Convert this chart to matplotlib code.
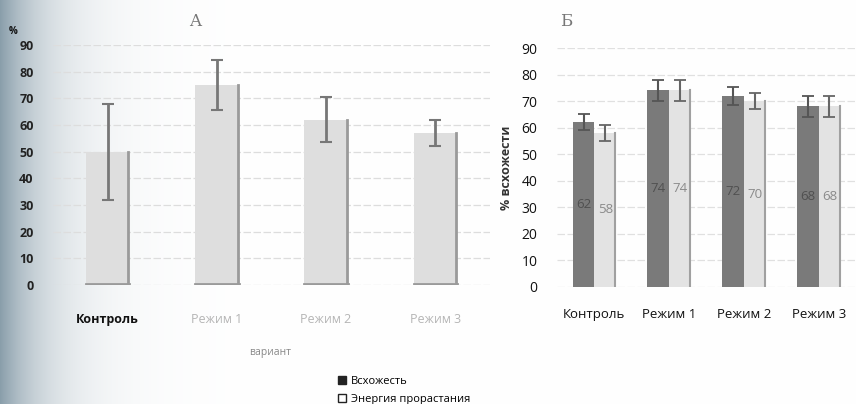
import numpy as np
import matplotlib
matplotlib.use("Agg")
import matplotlib.pyplot as plt
from matplotlib.lines import Line2D

# ---- data ----
categories = ["Контроль", "Режим 1", "Режим 2", "Режим 3"]

# Chart A
a_values = [50, 75, 62, 57]
a_errors = [18, 9.5, 8.5, 5]

# Chart Б
germination = [62, 74, 72, 68]          # Всхожесть
germ_err = [3, 4, 3.5, 4]
energy = [58, 74, 70, 68]               # Энергия прорастания
energy_err = [3, 4, 3, 4]

yticks = [0, 10, 20, 30, 40, 50, 60, 70, 80, 90]
legend_labels = ["Всхожесть", "Энергия прорастания"]

plt.rcParams['font.family'] = ['Open Sans', 'DejaVu Sans']

W, H = 856, 404
fig = plt.figure(figsize=(W / 100, H / 100), dpi=100)
fig.patch.set_facecolor("white")

# scanned-page background: bluish shading on the left edge
bg = fig.add_axes([0, 0, 1, 1], zorder=-10)
xs = np.linspace(0, 1, 800)
shade = np.exp(-xs / 0.055)
c0 = np.array([0.54, 0.62, 0.67])
c1 = np.array([1.0, 1.0, 1.0])
img = (c1[None, :] * (1 - shade[:, None]) + c0[None, :] * shade[:, None])
img = np.tile(img[None, :, :], (10, 1, 1))
bg.imshow(img, aspect="auto", extent=[0, 1, 0, 1])
bg.set_axis_off()


def frac(x0, y0, x1, y1):
    return [x0 / W, 1 - y1 / H, (x1 - x0) / W, (y1 - y0) / H]


# ---------------- Chart A ----------------
axA = fig.add_axes(frac(53, 45, 490, 285))
axA.patch.set_alpha(0)
xA = np.arange(len(categories))
axA.bar(xA, a_values, width=0.4, color="#dedede", edgecolor="none", zorder=2)
# darker right edge of bars
for xi, v in zip(xA, a_values):
    axA.plot([xi + 0.19, xi + 0.19], [0, v], color="#9a9a9a", lw=2, zorder=3)
    axA.plot([xi - 0.2, xi + 0.2], [0.3, 0.3], color="#9a9a9a", lw=2, zorder=3)
axA.errorbar(xA, a_values, yerr=a_errors, fmt="none", ecolor="#777777",
             elinewidth=2, capsize=4, capthick=1.5, zorder=4)
axA.set_xlim(-0.5, 3.5)
axA.set_ylim(0, 90)
axA.set_yticks(yticks)
axA.set_yticklabels([str(t) for t in yticks], fontsize=9, fontweight="bold",
                    color="#222222")
axA.set_xticks(xA)
axA.set_xticklabels(categories, fontsize=9)
for i, lbl in enumerate(axA.get_xticklabels()):
    lbl.set_color("#111111" if i == 0 else "#b5b5b5")
    if i == 0:
        lbl.set_fontweight("bold")
axA.tick_params(axis="both", length=0)
axA.tick_params(axis="x", pad=20)
axA.tick_params(axis="y", pad=14)
axA.grid(axis="y", color="#dddddd", lw=0.9, ls=(0, (6, 2)), zorder=0)
for s in axA.spines.values():
    s.set_visible(False)
fig.text(195 / W, 1 - 22 / H, "A", fontsize=12, color="#777777",
         family="DejaVu Serif", ha="center", va="center")
fig.text(13 / W, 1 - 32 / H, "%", fontsize=7, color="#111111",
         fontweight="bold", ha="center", va="center")
fig.text(270 / W, 1 - 352 / H, "вариант", fontsize=7.5, color="#888888",
         ha="center", va="center")

# ---------------- Chart Б ----------------
axB = fig.add_axes(frac(557, 48, 856, 287))
axB.patch.set_alpha(0)
xB = np.arange(len(categories))
bw = 0.29
b1 = axB.bar(xB - bw / 2, germination, width=bw, color="#7a7a7a",
             edgecolor="none", zorder=2)
b2 = axB.bar(xB + bw / 2, energy, width=bw, color="#e3e3e3",
             edgecolor="none", zorder=2)
for xi, v in zip(xB, energy):
    axB.plot([xi + bw - 0.01, xi + bw - 0.01], [0, v], color="#a0a0a0",
             lw=1.5, zorder=3)
axB.errorbar(xB - bw / 2, germination, yerr=germ_err, fmt="none",
             ecolor="#555555", elinewidth=1.5, capsize=4, capthick=1.3,
             zorder=4)
axB.errorbar(xB + bw / 2, energy, yerr=energy_err, fmt="none",
             ecolor="#666666", elinewidth=1.5, capsize=4, capthick=1.3,
             zorder=4)
axB.bar_label(b1, labels=[str(v) for v in germination], label_type="center",
              fontsize=9.5, color="#505050")
axB.bar_label(b2, labels=[str(v) for v in energy], label_type="center",
              fontsize=9.5, color="#8a8a8a")
axB.set_xlim(-0.5, 3.5)
axB.set_ylim(0, 90)
axB.set_yticks(yticks)
axB.set_yticklabels([str(t) for t in yticks], fontsize=10, color="#111111")
axB.set_xticks(xB)
axB.set_xticklabels(categories, fontsize=9.5, color="#111111")
axB.tick_params(axis="both", length=0)
axB.tick_params(axis="x", pad=15)
axB.tick_params(axis="y", pad=14)
axB.grid(axis="y", color="#e0e0e0", lw=0.9, ls=(0, (6, 2)), zorder=0)
for s in axB.spines.values():
    s.set_visible(False)
axB.set_ylabel("% всхожести", fontsize=9, color="#333333",
               fontweight="bold", labelpad=6)
fig.text(566 / W, 1 - 22 / H, "Б", fontsize=12, color="#777777",
         family="DejaVu Serif", ha="center", va="center")

# ---------------- shared legend ----------------
handles = [
    Line2D([], [], marker="s", ls="none", markersize=6,
           markerfacecolor="#222222", markeredgecolor="#222222"),
    Line2D([], [], marker="s", ls="none", markersize=6,
           markerfacecolor="white", markeredgecolor="#222222"),
]
fig.legend(handles, legend_labels, loc="upper left",
           bbox_to_anchor=(338 / W, 1 - 376 / H), frameon=False,
           fontsize=8, handlelength=0.8, handletextpad=0.4,
           labelspacing=0.6, borderaxespad=0, borderpad=0)

fig.savefig("out.png", dpi=100)
